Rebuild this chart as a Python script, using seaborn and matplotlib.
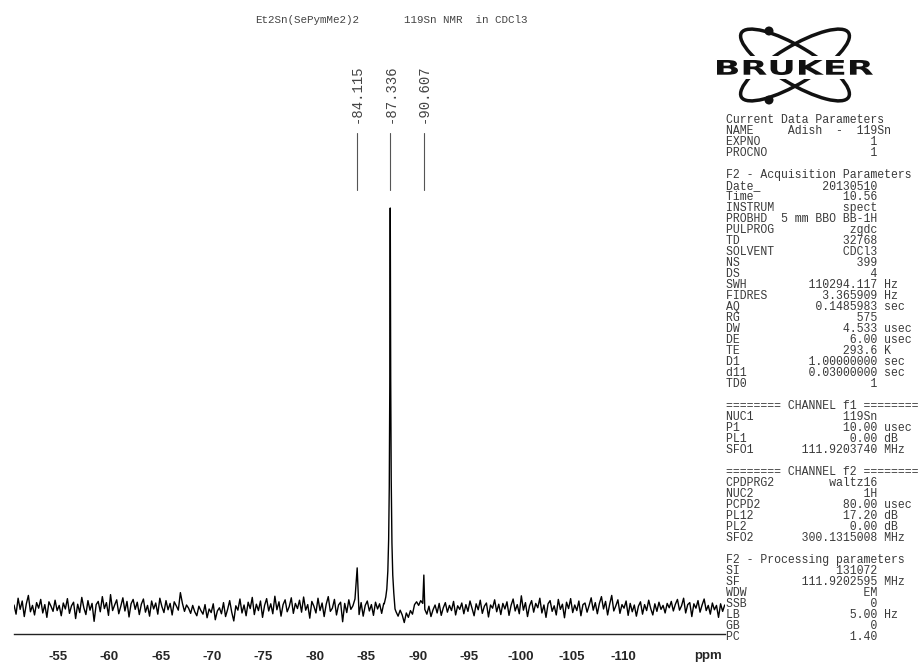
import numpy as np
import pandas as pd
import matplotlib
matplotlib.use("Agg")
import matplotlib.pyplot as plt
import seaborn as sns
from matplotlib.patches import Ellipse, Circle, PathPatch, Rectangle
from matplotlib.textpath import TextPath
from matplotlib.font_manager import FontProperties
from matplotlib.transforms import Affine2D
from matplotlib.ticker import MultipleLocator

# ---------------- data ----------------
compound = "Et2Sn(SePymMe2)2"
experiment = "119Sn NMR  in CDCl3"

# picked peaks (ppm) and their heights (relative intensity)
peak_shifts = [-84.115, -87.336, -90.607]
peak_heights = [9.8, 100.0, 8.0]

# flanks of the main resonance at -87.336 ppm
main_flank_shift = [-86.75, -86.90, -87.00, -87.10, -87.18, -87.24, -87.29,
                    -87.38, -87.43, -87.50, -87.58, -87.68, -87.80]
main_flank_int = [0.8, 2.5, 4.5, 9.0, 17.0, 30.0, 55.0,
                  57.0, 32.0, 16.0, 8.0, 3.5, -0.5]

# baseline samples every 0.2 ppm starting at -50.7 ppm
shift_start = -50.7
shift_step = -0.2
baseline = [
    0.5, -1.8, 2.2, -0.6, 1.5, -2.4, 0.8, 2.9, -1.2, 0.4, -2.0, 1.1, -0.3, 1.9, -1.5, 0.6, -2.6, 1.3, 0.2, -1.1,
    1.7, -0.9, 0.4, -2.2, 1.0, -0.5, 2.1, -1.6, 0.3, 1.2, -2.9, 0.7, -1.4, 2.4, -0.2, -1.9, 1.6, -0.8, 0.9, -3.6,
    0.6, 1.4, -1.2, 2.6, -0.4, 1.1, -2.1, 3.1, -0.9, 0.5, 1.8, -1.7, 0.2, 2.3, -1.0, 1.4, -2.5, 0.8, 1.9, -0.6,
    1.2, -1.9, 0.7, 2.0, -1.3, 0.4, -2.3, 1.5, -0.5, 1.0, -1.8, 2.2, 0.1, -1.4, 1.6, -0.7, 0.9, -2.0, 1.3, 0.3,
    -0.8, 3.6, 0.9, -1.1, 0.5, -0.3, -1.6, 0.4, -1.2, -2.2, 0.2, -0.9, -1.8, 0.6, -2.7, -0.5, -1.4, 0.8, -3.2, -1.0,
    -0.2, -1.7, 1.1, -2.4, -0.6, 1.6, -1.3, -3.5, 0.3, -0.8, 2.0, -1.5, 0.5, -2.2, 1.2, -0.4, 2.4, -1.9, 0.7, -0.9,
    1.5, -2.6, 0.4, 2.1, -1.0, 0.8, -1.7, 2.7, -0.7, 1.3, -2.3, 0.6, 1.8, -1.2, 0.1, 2.3, -1.6, 0.9, -0.4, 1.7,
    -1.3, 2.5, -0.8, 0.6, -2.8, 1.4, 0.2, -1.5, 2.2, -0.9, 1.0, -2.4, 0.7, 2.6, -1.1, -0.3, 1.9, -2.0, 0.5, 1.2,
    -3.7, 0.9, -1.4, 1.8, -0.6, 0.3, 2.0, 0.8, -1.9, 1.1, -2.3, 0.4, 1.5, -1.0, 0.6, -2.1, 1.2, -0.5, 0.8, -1.6,
    0.9, 0.0, 0.0, 0.0, 0.0, 0.0, -1.2, -2.3, -0.8, -2.0, -3.9, -1.5, -2.6, -0.9, -1.8, 0.6, 1.3, 0.4, 1.6, 0.9,
    -0.6, -1.8, 0.2, -2.4, -0.7, 0.5, -1.5, 0.9, -2.1, -0.2, 1.1, -1.3, 0.4, -0.9, 1.4, -2.0, 0.3, -0.6, 1.0, -1.7,
    0.6, -1.1, 1.5, -0.4, -2.2, 0.8, -0.7, 1.7, -1.6, 0.2, 1.0, -2.5, 0.5, -0.3, 1.8, -1.2, 0.7, -1.9, 0.9, -0.5,
    1.3, -2.1, 0.4, 2.0, -1.0, 0.6, -1.7, 2.8, -0.8, 1.1, -2.4, 0.3, 1.6, -1.3, 0.9, -0.2, 2.2, -1.5, 0.5, -2.6,
    0.8, 1.6, -1.1, 0.3, -2.0, 1.9, -0.6, 0.7, -2.7, 1.2, -0.4, 2.1, -1.4, 0.5, -0.9, 1.5, -2.2, 0.6, 1.0, -1.3,
    0.4, 2.3, -0.8, 1.1, -1.7, 0.9, 2.6, -0.5, 1.4, -2.0, 0.7, 2.9, -1.0, 0.3, 1.8, -1.6, 0.6, -0.3, 1.5, -2.1,
    0.9, -1.2, 0.5, -2.3, 0.2, 1.3, -1.8, 0.6, -0.9, 1.7, -0.4, -2.0, 0.8, -1.1, 1.2, -0.6, 0.4, -1.5, 0.9, -0.2,
    1.4, -1.0, 0.7, 1.9, -0.8, 0.3, 2.2, -1.5, 0.6, 1.1, -2.4, 0.8, -0.3, 1.6, -1.3, 0.5, 2.0, -0.9, 0.4, -1.8,
    1.0, -0.7, 0.4, -2.6, 0.8, -1.1, 0.5,
]

major_ticks = [-55, -60, -65, -70, -75, -80, -85, -90, -95, -100, -105, -110, -115]
tick_labels = ["-55", "-60", "-65", "-70", "-75", "-80", "-85", "-90", "-95",
               "-100", "-105", "-110", ""]

# acquisition / processing parameter block
current_params = [("NAME", "Adish  -  119Sn", ""), ("EXPNO", "1", ""), ("PROCNO", "1", "")]
acq_params = [
    ("Date_", "20130510", ""), ("Time", "10.56", ""), ("INSTRUM", "spect", ""),
    ("PROBHD", "5 mm BBO BB-1H", ""), ("PULPROG", "zgdc", ""), ("TD", "32768", ""),
    ("SOLVENT", "CDCl3", ""), ("NS", "399", ""), ("DS", "4", ""),
    ("SWH", "110294.117", "Hz"), ("FIDRES", "3.365909", "Hz"), ("AQ", "0.1485983", "sec"),
    ("RG", "575", ""), ("DW", "4.533", "usec"), ("DE", "6.00", "usec"),
    ("TE", "293.6", "K"), ("D1", "1.00000000", "sec"), ("d11", "0.03000000", "sec"),
    ("TD0", "1", ""),
]
f1_params = [("NUC1", "119Sn", ""), ("P1", "10.00", "usec"), ("PL1", "0.00", "dB"),
             ("SFO1", "111.9203740", "MHz")]
f2_params = [("CPDPRG2", "waltz16", ""), ("NUC2", "1H", ""), ("PCPD2", "80.00", "usec"),
             ("PL12", "17.20", "dB"), ("PL2", "0.00", "dB"), ("SFO2", "300.1315008", "MHz")]
proc_params = [("SI", "131072", ""), ("SF", "111.9202595", "MHz"), ("WDW", "EM", ""),
               ("SSB", "0", ""), ("LB", "5.00", "Hz"), ("GB", "0", ""), ("PC", "1.40", "")]

# ---------------- assemble spectrum ----------------
grid = shift_start + shift_step * np.arange(len(baseline))
noise = np.array(baseline)
lo, hi = min(main_flank_shift), max(main_flank_shift)
keep = ~((grid > lo) & (grid < hi))
for s in (peak_shifts[0], peak_shifts[2]):
    keep &= np.abs(grid - s) > 0.05
shift_all = np.concatenate([grid[keep], main_flank_shift, peak_shifts])
int_all = np.concatenate([noise[keep], main_flank_int, peak_heights])
spec = pd.DataFrame({"shift": shift_all, "intensity": int_all}).sort_values("shift")

# ---------------- figure ----------------
sns.set_style("white")
plt.rcParams["font.family"] = ["DejaVu Sans"]
W, H = 918, 663
fig = plt.figure(figsize=(W / 100, H / 100), dpi=100)


def fx(x):
    return x / W


def fy(y):
    return 1 - y / H


ax = fig.add_axes([fx(14), fy(634), (725 - 14) / W, (634 - 100) / H])
sns.lineplot(data=spec, x="shift", y="intensity", ax=ax, color="black",
             linewidth=1.0, estimator=None, sort=True, legend=False)
ax.set_xlim(-50.7, -119.93)
ax.set_ylim(-6.77, 127.07)
ax.set_xlabel("")
ax.set_ylabel("")
ax.set_yticks([])
for side in ("left", "right", "top"):
    ax.spines[side].set_visible(False)
ax.spines["bottom"].set_linewidth(1.0)
ax.spines["bottom"].set_color("#222222")
ax.set_xticks(major_ticks)
ax.set_xticklabels(tick_labels, fontweight="bold", family="Liberation Sans", fontsize=9.5)
ax.xaxis.set_minor_locator(MultipleLocator(1))
ax.tick_params(axis="x", which="major", direction="out", length=6, width=1.0,
               color="#222222", pad=6)
ax.tick_params(axis="x", which="minor", direction="inout", length=3, width=0.8,
               color="#444444")
ax.set_facecolor("none")

# peak picking labels
for s in peak_shifts:
    ax.plot([s, s], [104.5, 118.8], color="#555555", linewidth=0.8, clip_on=False)
    ax.text(s, 121.3, f"{s:.3f}", rotation=90, ha="center", va="bottom",
            family="Liberation Mono", fontsize=10, color="#444444", clip_on=False)

fig.text(fx(708), fy(656), "ppm", ha="center", va="center", fontweight="bold",
         family="Liberation Sans", fontsize=9.5)

# title
fig.text(fx(255), fy(20), compound, ha="left", va="center",
         family="Liberation Mono", fontsize=7.8, color="#444444")
fig.text(fx(404), fy(20), experiment, ha="left", va="center",
         family="Liberation Mono", fontsize=7.8, color="#444444")

# parameter block
def row(label, value, unit):
    s = f"{label:<8}{value:>14}"
    return s + (" " + unit if unit else "")


lines = ["Current Data Parameters",
         f"{'NAME':<9}{current_params[0][1]}"]
lines += [row(*p) for p in current_params[1:]]
lines += ["", "F2 - Acquisition Parameters"]
lines += [row(*p) for p in acq_params]
lines += ["", "======== CHANNEL f1 ========"]
lines += [row(*p) for p in f1_params]
lines += ["", "======== CHANNEL f2 ========"]
lines += [row(*p) for p in f2_params]
lines += ["", "F2 - Processing parameters"]
lines += [row(*p) for p in proc_params]
for k, txt in enumerate(lines):
    if txt:
        fig.text(fx(726), fy(120 + 11 * k), txt, ha="left", va="center",
                 family="Liberation Mono", fontsize=8.3, color="#3a3a3a")

# logo
lax = fig.add_axes([fx(700), fy(112), 180 / W, 100 / H])
lax.set_xlim(700, 880)
lax.set_ylim(112, 12)
lax.axis("off")
for ang in (31, -31):
    lax.add_patch(Ellipse((795, 65), 125, 37, angle=ang, fill=False,
                          linewidth=2.5, edgecolor="#111111", zorder=2))
lax.add_patch(Rectangle((712, 56), 166, 23, facecolor="white", edgecolor="none", zorder=3))
tp = TextPath((0, 0), "BRUKER", size=1, prop=FontProperties(family="DejaVu Sans", weight="bold"))
bb = tp.get_extents()
tr = Affine2D().translate(-bb.x0, -bb.y0).scale(156 / bb.width, -15 / bb.height).translate(717, 75)
lax.add_patch(PathPatch(tr.transform_path(tp), facecolor="#111111", edgecolor="none", zorder=4))
for c in ((769, 31), (769, 100)):
    lax.add_patch(Circle(c, 4.5, facecolor="#111111", edgecolor="none", zorder=5))

fig.savefig("out.png", dpi=100, facecolor="white")
